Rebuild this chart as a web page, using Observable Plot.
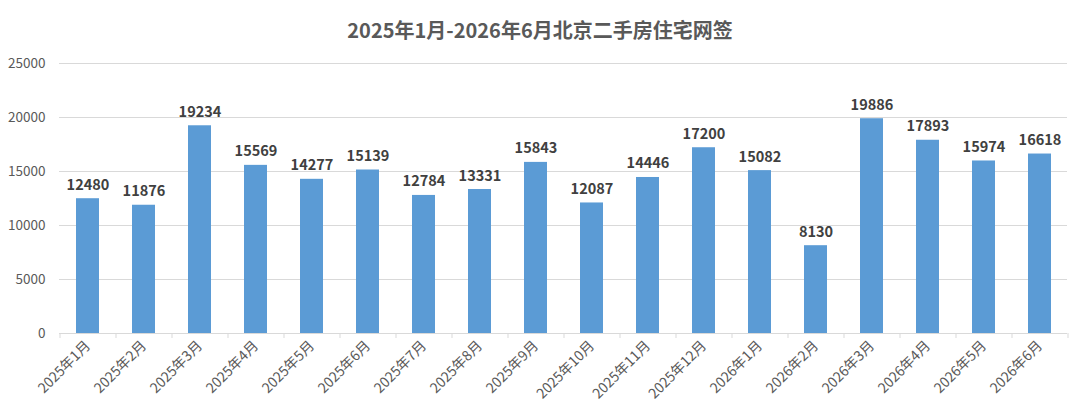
<!DOCTYPE html>
<html>
<head>
<meta charset="utf-8">
<script src="https://cdn.jsdelivr.net/npm/d3@7"></script>
<script src="https://cdn.jsdelivr.net/npm/@observablehq/plot@0.6"></script>
<style>
  html, body { margin: 0; padding: 0; background: #fff; }
  #title { height: 50px; box-sizing: border-box; padding-top: 17px; text-align: center;
    font-family: "Noto Sans CJK SC", sans-serif; font-weight: bold; font-size: 20px; line-height: 26px; color: #595959; }
  #chart svg { display: block; }
</style>
</head>
<body>
<div id="title">2025年1月-2026年6月北京二手房住宅网签</div>
<div id="chart"></div>
<script>
const months = ["2025年1月","2025年2月","2025年3月","2025年4月","2025年5月","2025年6月","2025年7月","2025年8月","2025年9月","2025年10月","2025年11月","2025年12月","2026年1月","2026年2月","2026年3月","2026年4月","2026年5月","2026年6月"];
const values = [12480,11876,19234,15569,14277,15139,12784,13331,15843,12087,14446,17200,15082,8130,19886,17893,15974,16618];
const yTicks = [0,5000,10000,15000,20000,25000];

const data = months.map((m, i) => ({month: m, value: values[i]}));
const W = 1080, H = 365, ML = 59, MR = 13;
const step = (W - ML - MR) / months.length;

const chart = Plot.plot({
  width: W, height: H,
  marginLeft: ML, marginRight: MR, marginTop: 13, marginBottom: 82,
  style: {fontFamily: "'Noto Sans CJK SC', sans-serif", background: "#fff"},
  x: {domain: months, paddingInner: 0.59, paddingOuter: 0.295, label: null},
  y: {domain: [0, 25000], label: null},
  marks: [
    Plot.gridY(yTicks, {stroke: "#d9d9d9", strokeOpacity: 1, strokeWidth: 1}),
    Plot.barY(data, {x: "month", y: "value", fill: "#5b9bd5"}),
    Plot.ruleY([0], {stroke: "#d9d9d9", strokeWidth: 1}),
    Plot.ruleX(months, {x: d => d, y1: 0, y2: 0, dx: -step / 2, insetBottom: -5, stroke: "#d9d9d9"}),
    Plot.ruleX([months[months.length - 1]], {x: d => d, y1: 0, y2: 0, dx: step / 2, insetBottom: -5, stroke: "#d9d9d9"}),
    Plot.text(data, {x: "month", y: "value", text: d => String(d.value), lineAnchor: "bottom", dy: -9,
      fontWeight: "bold", fontSize: 14.5, fill: "#404040"}),
    Plot.axisY(yTicks, {tickSize: 0, tickPadding: 14, fontSize: 13.5, color: "#595959", tickFormat: d => String(d)}),
    Plot.axisX({tickSize: 0, tickPadding: 10, tickRotate: -45, fontSize: 14, color: "#595959"})
  ]
});
document.getElementById("chart").appendChild(chart);
</script>
</body>
</html>
